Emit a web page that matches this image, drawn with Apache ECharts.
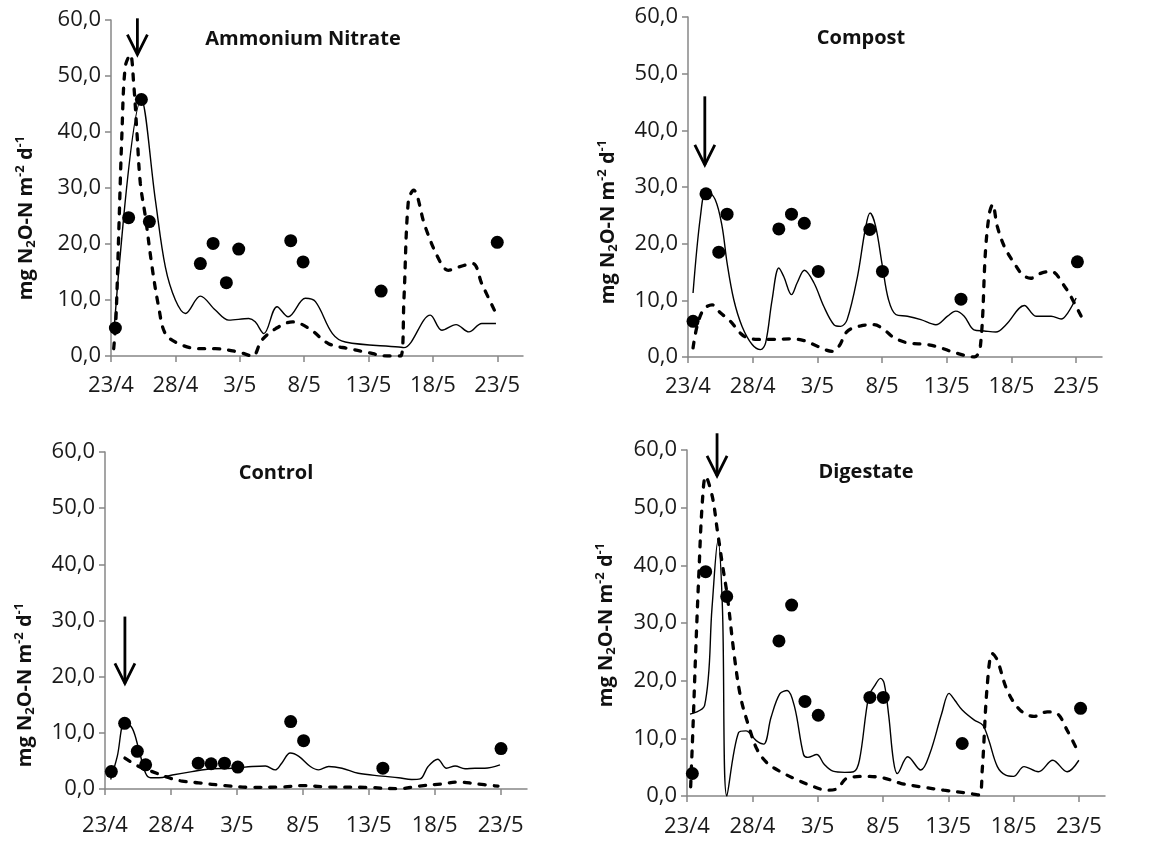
<!DOCTYPE html>
<html><head><meta charset="utf-8">
<script src="https://cdn.jsdelivr.net/npm/echarts@6/dist/echarts.min.js"></script>
<style>html,body{margin:0;padding:0;background:#fff}#c{width:1174px;height:846px}</style>
</head><body><div id="c"></div>
<script>
// x = days after 23/4
const xTickDays = [0, 5, 10, 15, 20, 25, 30];
const xTickLabels = ['23/4', '28/4', '3/5', '8/5', '13/5', '18/5', '23/5'];
const yTicks = [0, 10, 20, 30, 40, 50, 60];
const panelTitles = ['Ammonium Nitrate', 'Compost', 'Control', 'Digestate'];

// Ammonium Nitrate
const anDots = [[0.34,5.0],[1.37,24.7],[2.36,45.8],[2.98,24.0],[6.94,16.5],[7.93,20.1],[8.96,13.1],[9.92,19.1],[13.96,20.6],[14.92,16.8],[20.98,11.6],[30.0,20.3]];
const anSolid = [[0.21,4.0],[2.36,45.8],[3.45,27.8],[4.22,15.9],[5.0,10.0],[5.78,7.6],[6.94,10.7],[8.1,8.2],[9.15,6.4],[10.7,6.7],[11.2,6.1],[11.87,4.0],[12.9,8.8],[13.76,7.0],[15.1,10.3],[15.88,9.7],[17.2,4.0],[18.2,2.5],[22.36,1.6],[22.75,1.5],[24.8,7.3],[25.7,4.6],[26.8,5.6],[27.8,4.3],[28.8,5.8],[29.9,5.8]];
const anDashed = [[0.21,1.3],[0.39,7.0],[0.6,21.9],[0.85,39.8],[1.11,51.7],[1.5,53.8],[1.76,48.7],[2.02,39.7],[2.28,30.8],[2.67,24.9],[3.19,15.9],[3.7,8.8],[4.22,4.0],[5.26,2.2],[6.8,1.3],[8.1,1.3],[9.92,0.7],[11.0,0],[11.7,2.8],[12.8,4.9],[14.1,6.1],[15.4,4.9],[16.9,2.2],[18.5,1.3],[19.8,0.7],[21.45,0],[22.5,0],[22.75,10],[23.1,27.8],[23.5,29.6],[24.4,23.1],[25.5,17.1],[26.2,15.3],[27.0,15.9],[28.1,16.5],[28.8,12.9],[29.9,7.6]];
const anArrow = [[2.05, 60.3, 53.8]];

// Compost
const coDots = [[0.39,6.3],[1.39,28.8],[2.38,18.5],[3.02,25.2],[7.02,22.6],[8.0,25.2],[8.99,23.6],[10.07,15.1],[14.05,22.5],[15.03,15.1],[21.1,10.2],[30.1,16.8]];
const coSolid = [[0.39,11.3],[0.96,24.8],[1.42,29.5],[2.1,27.8],[2.63,23.1],[3.02,16.6],[3.54,10.1],[4.18,5.4],[4.96,2.2],[5.6,1.3],[6.0,2.5],[6.5,10.1],[7.02,15.7],[7.4,14.2],[8.0,11.0],[8.44,13.1],[9.0,15.3],[9.73,13.1],[10.5,8.9],[11.28,5.7],[11.8,5.4],[12.3,6.6],[13.1,14.2],[13.7,22.5],[14.07,25.4],[14.5,23.1],[15.03,16.0],[15.5,10.1],[16.06,7.5],[16.96,7.2],[18.0,6.6],[19.16,5.7],[20.06,7.2],[20.7,8.1],[21.35,7.2],[22.1,4.8],[22.9,4.6],[23.8,4.4],[24.58,5.7],[26.0,9.1],[26.9,7.2],[28.07,7.2],[28.84,6.7],[29.36,7.8],[30.0,10.4]];
const coDashed = [[0.39,1.6],[0.7,5.4],[1.21,8.4],[1.86,9.2],[2.5,7.8],[3.28,6.3],[4.05,4.2],[4.57,3.4],[5.34,3.1],[6.38,3.1],[7.93,3.2],[8.96,2.9],[10.0,1.9],[11.15,1.0],[11.67,1.9],[12.3,4.5],[13.35,5.5],[14.38,5.7],[15.16,4.8],[15.93,3.4],[16.96,2.5],[18.5,2.2],[19.55,1.6],[20.58,0.8],[22.13,0],[22.6,1.9],[23.0,18.9],[23.3,25.4],[23.55,26.9],[23.9,23.1],[24.45,19.5],[25.2,16.6],[25.87,14.5],[26.5,13.9],[27.3,14.8],[28.07,15.1],[29.1,12.5],[29.87,9.5],[30.65,6.0]];
const coArrow = [[1.3, 46.0, 33.9]];

// Control
const ctDots = [[0.48,3.1],[1.49,11.7],[2.45,6.7],[3.08,4.3],[7.07,4.6],[8.05,4.5],[9.06,4.6],[10.07,3.9],[14.08,12.0],[15.06,8.6],[21.07,3.7],[30.03,7.2]];
const ctSolid = [[0.43,1.7],[0.93,5.8],[1.49,12.0],[2.07,10.8],[2.57,7.0],[3.08,2.8],[3.46,2.0],[4.09,2.0],[5.1,2.5],[6.6,3.1],[8.1,3.6],[9.64,3.7],[11.15,4.0],[12.16,4.1],[12.9,3.4],[13.4,4.6],[14.05,6.4],[14.7,5.8],[15.57,4.0],[16.2,3.4],[16.96,4.0],[17.97,3.7],[19.2,2.8],[20.99,2.3],[22.26,2.0],[23.26,1.7],[23.9,1.8],[24.5,4.0],[25.23,5.3],[25.9,3.7],[26.55,4.1],[27.3,3.6],[28.06,3.7],[28.8,3.7],[29.95,4.3]];
const ctDashed = [[1.51,5.5],[2.57,4.0],[3.58,3.1],[4.85,2.0],[5.85,1.4],[7.1,1.1],[9.1,0.6],[10.9,0.3],[13.4,0.35],[14.9,0.6],[16.96,0.35],[19.7,0.3],[22.3,0.05],[23.8,0.5],[25.5,0.9],[26.8,1.25],[28.06,0.95],[29.8,0.5]];
const ctArrow = [[1.51, 30.7, 18.8]];

// Digestate
const dgDots = [[0.41,3.9],[1.43,38.9],[3.04,34.6],[7.04,26.9],[8.01,33.1],[9.03,16.4],[10.05,14.0],[14.0,17.1],[15.03,17.1],[21.07,9.1],[30.13,15.2]];
const dgSolid = [[0.23,14.2],[1.35,15.7],[1.92,32.8],[2.37,44.3],[2.71,32.8],[3.05,0],[3.95,11.0],[4.51,11.3],[5.3,9.6],[5.87,9.0],[6.43,13.6],[7.1,17.7],[7.67,18.3],[8.24,15.4],[8.92,7.2],[9.25,6.7],[9.93,7.2],[10.5,5.5],[11.17,4.3],[12.08,4.1],[12.75,4.2],[13.2,6.2],[13.9,17.2],[14.33,19.0],[14.82,20.4],[15.1,19.5],[15.45,13.8],[15.8,6.2],[16.1,3.9],[16.9,6.8],[17.9,4.5],[18.6,7.4],[19.5,14.3],[20.06,17.8],[20.5,16.6],[21.07,14.9],[21.97,13.2],[22.64,12.3],[23.1,9.7],[23.76,5.1],[24.4,3.6],[24.99,3.4],[25.8,5.1],[26.9,4.2],[28.0,6.2],[29.1,4.2],[30.0,6.2]];
const dgDashed = [[0.28,1.6],[0.48,13.2],[0.66,24.7],[0.92,39.2],[1.17,50.8],[1.43,55.4],[1.94,51.9],[2.32,46.1],[2.7,40.3],[3.09,34.6],[3.6,24.7],[4.1,17.2],[4.74,12.0],[5.38,8.0],[6.15,5.7],[7.17,4.2],[8.44,2.8],[9.72,1.6],[10.74,1.0],[11.5,1.3],[12.27,3.1],[13.8,3.4],[15.08,3.1],[16.35,2.2],[17.88,1.6],[19.67,1.0],[21.45,0.5],[22.35,0.2],[22.6,4.5],[22.98,19.0],[23.37,24.7],[23.75,23.6],[24.5,18.4],[25.5,14.9],[26.56,13.8],[27.58,14.6],[28.34,14.3],[29.1,11.4],[30.0,7.4]];
const dgArrow = [[2.3, 62.9, 55.5]];

const panels = [
  {dots: anDots, solid: anSolid, dashed: anDashed, arrow: anArrow},
  {dots: coDots, solid: coSolid, dashed: coDashed, arrow: coArrow},
  {dots: ctDots, solid: ctSolid, dashed: ctDashed, arrow: ctArrow},
  {dots: dgDots, solid: dgSolid, dashed: dgDashed, arrow: dgArrow}
];

const FONT = '"Open Sans", "Liberation Sans", sans-serif';
const AXC = '#878787';
const grids = [
  {left: 111, top: 20, width: 412, height: 336},
  {left: 688, top: 17, width: 414, height: 340},
  {left: 105, top: 452, width: 422, height: 337},
  {left: 687, top: 450, width: 418, height: 346}
];
const xLabelMargin = [19, 19, 26, 20];
const titlePos = [[303, 39], [861, 38], [276, 473], [866, 472]];
const yNamePos = [[26, 218], [608, 222], [25, 685], [606, 625]];

const xAxes = grids.map((g, i) => ({
  type: 'value', gridIndex: i, min: 0, max: 32,
  axisLine: {show: true, lineStyle: {color: AXC, width: 1.5}},
  axisTick: {show: true, customValues: xTickDays, length: 6, lineStyle: {color: AXC, width: 1.5}},
  axisLabel: {customValues: xTickDays, formatter: v => xTickLabels[xTickDays.indexOf(v)] || '',
    fontSize: 22, color: '#1a1a1a', fontFamily: FONT, margin: xLabelMargin[i]},
  splitLine: {show: false}
}));
const yAxes = grids.map((g, i) => ({
  type: 'value', gridIndex: i, min: 0, max: 60, interval: 10,
  axisLine: {show: true, lineStyle: {color: AXC, width: 1.5}},
  axisTick: {show: true, length: 6, lineStyle: {color: AXC, width: 1.5}},
  axisLabel: {formatter: v => v.toFixed(1).replace('.', ','), fontSize: 22, color: '#1a1a1a', fontFamily: FONT, margin: 10},
  splitLine: {show: false}
}));

const series = [];
panels.forEach((p, i) => {
  series.push({type: 'line', xAxisIndex: i, yAxisIndex: i, data: p.solid, symbol: 'none', smooth: 0.35,
    lineStyle: {color: '#000', width: 1.4}, z: 2});
  series.push({type: 'line', xAxisIndex: i, yAxisIndex: i, data: p.dashed, symbol: 'none', smooth: 0.35,
    lineStyle: {color: '#000', width: 3.3, type: [6, 9], cap: 'round'}, z: 2});
  series.push({type: 'scatter', xAxisIndex: i, yAxisIndex: i, data: p.dots, symbol: 'circle', symbolSize: 13,
    itemStyle: {color: '#000', opacity: 1}, z: 3});
  series.push({type: 'custom', xAxisIndex: i, yAxisIndex: i, data: p.arrow, clip: false, z: 4,
    renderItem: (params, api) => {
      const a = api.coord([api.value(0), api.value(1)]);
      const b = api.coord([api.value(0), api.value(2)]);
      const st = {stroke: '#000', lineWidth: 2.8, fill: null};
      return {type: 'group', children: [
        {type: 'line', shape: {x1: a[0], y1: a[1], x2: b[0], y2: b[1]}, style: st},
        {type: 'polyline', shape: {points: [[b[0] - 10, b[1] - 20], [b[0], b[1]], [b[0] + 10, b[1] - 20]]}, style: st}
      ]};
    }});
});

const graphic = [];
panelTitles.forEach((t, i) => {
  graphic.push({type: 'text', x: titlePos[i][0], y: titlePos[i][1],
    style: {text: t, font: 'bold 20px ' + FONT, fill: '#111', align: 'center', verticalAlign: 'middle'}});
  graphic.push({type: 'text', x: yNamePos[i][0], y: yNamePos[i][1], rotation: Math.PI / 2,
    style: {text: '{b|mg N}{sub|2}{b|O-N m}{sup|-2}{b| d}{sup|-1}', align: 'center', verticalAlign: 'middle',
      fill: '#111',
      rich: {
        b: {fontSize: 20, fontWeight: 'bold', fontFamily: FONT, lineHeight: 24, fill: '#111'},
        sub: {fontSize: 13, fontWeight: 'bold', fontFamily: FONT, lineHeight: 13, verticalAlign: 'bottom', fill: '#111'},
        sup: {fontSize: 13, fontWeight: 'bold', fontFamily: FONT, lineHeight: 13, verticalAlign: 'top', fill: '#111'}
      }}});
});

const chart = echarts.init(document.getElementById('c'), null, {renderer: 'canvas'});
chart.setOption({
  animation: false,
  backgroundColor: '#fff',
  grid: grids,
  xAxis: xAxes,
  yAxis: yAxes,
  series: series,
  graphic: graphic
});
</script>
</body></html>
